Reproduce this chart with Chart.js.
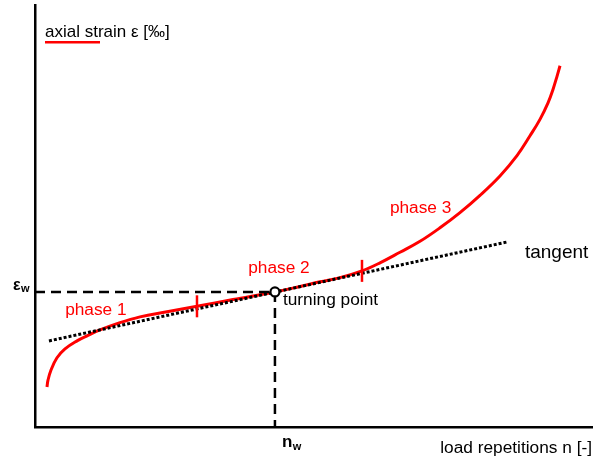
<!DOCTYPE html>
<html>
<head>
<meta charset="utf-8">
<script src="https://cdn.jsdelivr.net/npm/chart.js@4/dist/chart.umd.min.js"></script>
<style>
  html, body { margin: 0; padding: 0; background: #fff; }
  canvas { display: block; }
</style>
</head>
<body>
<canvas id="chart" width="593" height="459"></canvas>
<script>
// Creep curve of axial strain over load repetitions (arbitrary units, 0..100)
const loadRepetitions = [2.15, 2.33, 2.87, 3.94, 5.38, 7.53, 9.50, 11.65, 14.70, 18.82, 23.66, 29.03,
                         35.48, 43.0, 47.49, 51.08, 54.66, 58.60, 61.83, 65.41, 69.0, 72.58, 76.16,
                         79.75, 83.33, 86.38, 88.71, 90.50, 91.94, 92.83, 93.55, 94.09];
const axialStrain     = [9.5, 11.1, 13.5, 16.4, 18.5, 20.4, 21.7, 23.0, 24.5, 26.1, 27.3, 28.6,
                         30.2, 32.0, 33.3, 34.4, 35.4, 37.0, 38.9, 41.4, 44.0, 47.2, 50.8,
                         54.9, 59.5, 64.3, 69.0, 72.9, 76.8, 80.0, 83.1, 85.6];

// Tangent through the turning point
const tangentN   = [2.5, 84.8];
const tangentEps = [20.4, 43.9];

// Turning point (n_w, eps_w)
const nW   = 43.0;
const epsW = 32.0;

// Boundaries between the creep phases
const phaseBoundaryN   = [29.03, 58.6];
const phaseBoundaryEps = [28.6, 37.0];

// Text
const phaseNames   = ['phase 1', 'phase 2', 'phase 3'];
const yAxisTitle   = 'axial strain ε [‰]';
const xAxisTitle   = 'load repetitions n [-]';
const tangentLabel = 'tangent';
const turningLabel = 'turning point';

const RED = '#ff0000';
const FONT = "'Liberation Sans', Arial, sans-serif";

const pts = (xs, ys) => xs.map((v, i) => ({ x: v, y: ys[i] }));

const annotations = {
  id: 'annotations',
  afterDraw(chart) {
    const { ctx, chartArea, scales: { x, y } } = chart;
    ctx.save();
    ctx.textBaseline = 'alphabetic';
    ctx.textAlign = 'left';

    const text = (str, px, py, color, font) => {
      ctx.fillStyle = color;
      ctx.font = font;
      ctx.fillText(str, px, py);
      return ctx.measureText(str).width;
    };

    // phase labels
    const phasePos = [[5.4, 26.5], [38.2, 36.5], [63.6, 50.7]];
    phaseNames.forEach((name, i) => {
      text(name, x.getPixelForValue(phasePos[i][0]), y.getPixelForValue(phasePos[i][1]), RED, `17.3px ${FONT}`);
    });

    // tangent and turning point labels
    text(tangentLabel, x.getPixelForValue(87.8), y.getPixelForValue(40.0), '#000', `19px ${FONT}`);
    text(turningLabel, x.getPixelForValue(nW) + 8, y.getPixelForValue(epsW) + 13, '#000', `17.3px ${FONT}`);

    // y axis title with red line sample underneath
    const yl = chartArea.left + 10;
    text(yAxisTitle, yl, 36.5, '#000', `17px ${FONT}`);
    ctx.strokeStyle = RED;
    ctx.lineWidth = 2.6;
    ctx.beginPath();
    ctx.moveTo(yl, 42.2);
    ctx.lineTo(yl + 55, 42.2);
    ctx.stroke();

    // x axis title
    ctx.textAlign = 'right';
    text(xAxisTitle, chartArea.right - 1, 453, '#000', `17.3px ${FONT}`);
    ctx.textAlign = 'left';

    // n_w below the x axis
    const nx = x.getPixelForValue(nW) + 7;
    const w1 = text('n', nx, 447, '#000', `bold 17px ${FONT}`);
    text('w', nx + w1 + 0.5, 450, '#000', `bold 11px ${FONT}`);

    // eps_w left of the y axis
    const ey = y.getPixelForValue(epsW) - 2;
    const w2 = text('ε', 13, ey, '#000', `bold 16px ${FONT}`);
    text('w', 13 + w2 + 0.5, ey + 2.5, '#000', `bold 11px ${FONT}`);

    ctx.restore();
  }
};

new Chart(document.getElementById('chart'), {
  type: 'line',
  data: {
    datasets: [
      {
        label: turningLabel,
        data: [{ x: nW, y: epsW }],
        showLine: false,
        pointRadius: 4.5,
        pointBackgroundColor: '#fff',
        pointBorderColor: '#000',
        pointBorderWidth: 2.2,
        clip: false
      },
      {
        label: 'phase boundaries',
        data: pts(phaseBoundaryN, phaseBoundaryEps),
        showLine: false,
        pointStyle: 'line',
        rotation: 90,
        pointRadius: 11,
        pointBorderColor: RED,
        pointBorderWidth: 2.5,
        clip: false
      },
      {
        label: tangentLabel,
        data: pts(tangentN, tangentEps),
        borderColor: '#000',
        borderWidth: 3,
        borderDash: [3, 2],
        pointRadius: 0,
        tension: 0,
        clip: false
      },
      {
        label: 'turning point guides',
        data: [{ x: 0, y: epsW }, { x: nW, y: epsW }, { x: nW, y: 0 }],
        borderColor: '#000',
        borderWidth: 2.5,
        borderDash: [10, 6],
        pointRadius: 0,
        tension: 0,
        clip: false
      },
      {
        label: yAxisTitle,
        data: pts(loadRepetitions, axialStrain),
        borderColor: RED,
        borderWidth: 3,
        pointRadius: 0,
        tension: 0.4,
        clip: false
      }
    ]
  },
  options: {
    responsive: false,
    devicePixelRatio: 1,
    animation: false,
    layout: { autoPadding: false, padding: { left: 35, top: 5, right: 0, bottom: 32 } },
    plugins: { legend: { display: false }, tooltip: { enabled: false } },
    scales: {
      x: {
        type: 'linear', min: 0, max: 100,
        grid: { display: false, drawTicks: false },
        ticks: { display: false },
        border: { display: true, color: '#000', width: 2.5 }
      },
      y: {
        type: 'linear', min: 0, max: 100,
        grid: { display: false, drawTicks: false },
        ticks: { display: false },
        border: { display: true, color: '#000', width: 2.5 }
      }
    }
  },
  plugins: [annotations]
});
</script>
</body>
</html>
